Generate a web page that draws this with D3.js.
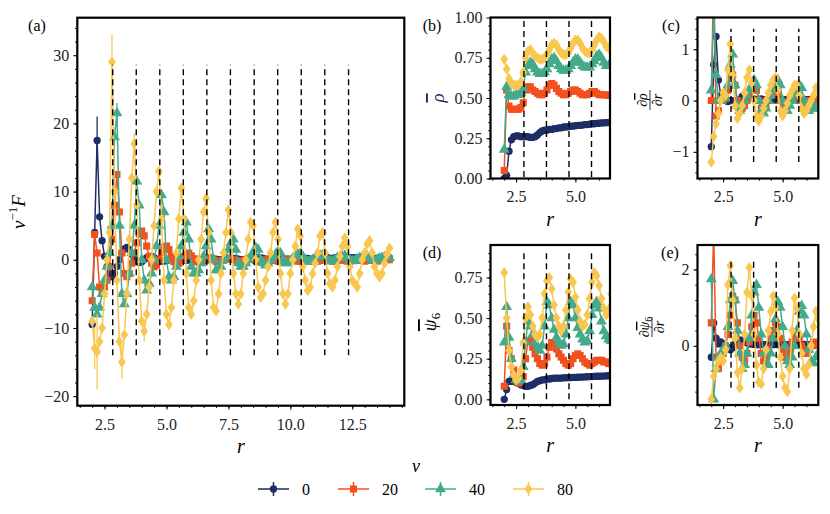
<!DOCTYPE html>
<html><head><meta charset="utf-8">
<script src="https://cdn.jsdelivr.net/npm/d3@7.9.0/dist/d3.min.js"></script>
<style>
body{margin:0;background:#fff;}
svg, svg text{font-family:"Liberation Serif","DejaVu Serif",serif;}
</style></head><body>
<svg id="fig" width="830" height="514" font-family="Liberation Serif"></svg>
<script>
// series labels + colours (nu = activity)
const nus = ["0", "20", "40", "80"];
const colors = ["#1e2d64", "#f2501d", "#44aa8b", "#f9c74f"];

// r grid: panel (a) 2.0 .. 14.0, small panels use 2.0 .. 6.5
const rA = d3.range(0, 121).map(i => +(2 + i * 0.1).toFixed(1));
const rS = rA.slice(0, 46);

// dashed shell positions
const shellR = [2.83, 3.78, 4.73, 5.68, 6.63, 7.58, 8.54, 9.49, 10.44, 11.39, 12.35];

// (a) nu^-1 F
const forceNu0 = [-9.5,4,17.5,6.3,2.8,0.5,-1,-2,-2.5,-2, -1,0,1,1.6,1.8,1.5,0.8,0.2,-0.2,-0.4,
  -0.3,0,0.3,0.5,0.5,0.3,0.1,-0.1,-0.2,-0.2, -0.1,0,0.1,0.2,0.2,0.1,0,-0.1,-0.1,0,
  0.1,0.1,0.1,0,0,-0.1,0,0,0.1,0.1, 0.1,0,0,0,0,0.1,0.1,0.2,0.2,0.1,
  0,0,0.1,0.2,0.3,0.4,0.4,0.3,0.3,0.2, 0.1,0,0,0.1,0.1,0.2,0.2,0.2,0.1,0.1,
  0,0,0.1,0.1,0.2,0.2,0.2,0.2,0.1,0.1, 0.1,0.2,0.2,0.3,0.3,0.3,0.2,0.2,0.3,0.3,
  0.3,0.2,0.2,0.2,0.3,0.3,0.3,0.2,0.2,0.2, 0.3,0.3,0.3,0.2,0.2,0.2,0.3,0.3,0.3,0.2, 0.3];
const forceNu20 = [-6,3.7,1,-4,-4.5,-4,-3,-1,3,8, 12.5,7,1,-2,-2.5,-2,-0.5,1,2.5,3.8,
  4.2,3.5,2,0.5,-0.5,-1,-0.8,0,1,1.8, 2,1.5,0.5,-0.3,-0.5,-0.5,0,0.5,0.8,1,
  0.6,0.1,-0.3,-0.3,-0.2,0,0.2,0.3,0.2,0, -0.2,-0.2,-0.1,0,0.1,0.2,0.1,0,-0.1,-0.2,
  -0.2,-0.1,0,0.1,0.1,0,-0.1,-0.2,-0.2,-0.1, 0,0.1,0.1,0,-0.1,-0.2,-0.2,-0.1,0,0,
  0.1,0,-0.1,-0.2,-0.2,-0.1,0,0,0,-0.1, -0.2,-0.2,-0.1,0,0,0,-0.1,-0.2,-0.2,-0.1,
  0,0,-0.1,-0.2,-0.2,-0.1,0,0,-0.1,-0.1, -0.2,-0.1,0,0,-0.1,-0.2,-0.1,0,0,0, 0];
const forceNu40 = [-4,-7,-8,-7,-5,-3,-1,1,5,18, 21.5,5,-5,-6.5,-5,-2,1,5,11.5,8,
  0,-3,-4.5,-3.5,-2,0,2,5,9.5,7, 0,-2.5,-3,-2.5,-1,0.5,2,4,5.5,3,
  -1,-2,-2,-1.5,-0.5,0.5,2,4.5,3,0, -1.5,-1.5,-1,0,0.5,1.5,2.5,3,1.5,-0.5,
  -1,-1,-0.5,0,0.5,1,1.8,1.5,0,-0.5, -0.8,-0.5,0,0.3,0.8,1.2,1,0,-0.5,-0.5,
  -0.2,0.2,0.5,0.8,0.9,0.5,0,-0.3,-0.3,0, 0.3,0.5,0.6,0.7,0.4,0,-0.2,-0.2,0,0.3,
  0.4,0.5,0.6,0.3,0,-0.2,-0.1,0.1,0.3,0.4, 0.5,0.5,0.3,0,-0.1,0,0.2,0.3,0.4,0.4, 0.3];
const forceNu80 = [-9,-13,-13.5,-12,-10,-5,0,4,29,10, -3,-12,-15,-11,-5,3,12,17,8,-3,
  -9,-10.5,-8,-4,0,5,10,13,6,-3, -8,-9.5,-7,-3,1,6,10.5,6,-2,-7,
  -8,-6,-3,0,3,7,9,4,-3,-7, -7.5,-5,-2,1,4,7.3,4,-2,-5,-6.5,
  -5,-2,0,3,5.5,5,0,-4,-5.5,-5, -3,-1,1,4,5.5,3,-2,-5,-6.5,-5,
  -2,0,2,4.5,3.5,-1,-3,-4.5,-4,-2, -0.5,1,3.5,4,1,-2,-3.5,-4,-3,-1,
  0.5,2,3.2,2,-1,-3,-3.5,-4,-2,0, 1,2.3,2.8,1,-1,-2,-2.5,-2,-0.5,0.8, 1.7];
// a few visible error bars in (a): [series, r, half-width]
const forceErr = [[0,2.2,3.5],[3,2.8,4],[3,2.2,5.5],[3,2.1,3],[3,3.2,2.5],[3,4.1,1.5],[2,3.0,1.5],[3,3.7,1.5]];

// (b) rho bar
const rhoNu0 = [0,0.02,0.17,0.24,0.26,0.265,0.265,0.26,0.26,0.26, 0.26,0.255,0.255,0.26,0.27,0.285,0.295,0.3,0.3,0.305,
  0.305,0.31,0.31,0.315,0.315,0.32,0.32,0.322,0.325,0.325, 0.328,0.33,0.33,0.332,0.335,0.335,0.337,0.34,0.34,0.342,
  0.343,0.345,0.346,0.347,0.348,0.35];
const rhoNu20 = [0.05,0.55,0.45,0.43,0.43,0.43,0.43,0.44,0.47,0.55, 0.57,0.57,0.55,0.54,0.53,0.52,0.52,0.53,0.55,0.58,
  0.59,0.58,0.56,0.54,0.53,0.52,0.52,0.53,0.54,0.55, 0.55,0.54,0.53,0.52,0.52,0.52,0.53,0.54,0.54,0.53,
  0.52,0.52,0.52,0.52,0.515,0.515];
const rhoNu40 = [0.18,0.57,0.52,0.51,0.51,0.52,0.52,0.53,0.56,0.66, 0.7,0.72,0.71,0.68,0.66,0.65,0.65,0.66,0.68,0.71,
  0.74,0.75,0.73,0.7,0.68,0.67,0.67,0.68,0.7,0.72, 0.74,0.74,0.72,0.7,0.69,0.69,0.69,0.71,0.73,0.76,
  0.77,0.75,0.72,0.7,0.7,0.7];
const rhoNu80 = [0.74,0.68,0.62,0.59,0.58,0.58,0.58,0.6,0.66,0.75, 0.79,0.8,0.78,0.76,0.75,0.74,0.74,0.75,0.77,0.8,
  0.83,0.84,0.83,0.8,0.78,0.77,0.77,0.78,0.81,0.84, 0.86,0.86,0.84,0.81,0.79,0.78,0.78,0.8,0.83,0.86,
  0.88,0.87,0.85,0.82,0.81,0.83];

// (c) d rho / dr
const drhoNu0 = [-0.9,0.7,1.25,0.4,0.1,0.02,0,-0.02,0,0, 0,-0.02,0.02,0.08,0.12,0.15,0.1,0.05,0.03,0.02,
  0.02,0.03,0.02,0.02,0.01,0.02,0.02,0.01,0.02,0.02, 0.01,0.02,0.02,0.01,0.02,0.02,0.01,0.02,0.02,0.01,
  0.02,0.02,0.01,0.02,0.01,0.02];
const drhoNu20 = [0,2.5,-0.3,-0.2,0,0,0.05,0.2,0.5,0.5, 0.3,0,-0.15,-0.15,-0.1,0,0.1,0.2,0.3,0.2,
  0,-0.15,-0.2,-0.1,0,0.1,0.15,0.2,0.15,0, -0.1,-0.1,-0.05,0,0.05,0.1,0.1,0.05,0,-0.05,
  -0.05,0,0,0,0,0];
const drhoNu40 = [0.2,1.8,0.5,0,0,0.05,0.05,0.3,0.7,0.9, 0.3,-0.1,-0.2,-0.1,0,0.1,0.2,0.3,0.4,0.3,
  0,-0.2,-0.25,-0.15,0,0.1,0.2,0.3,0.4,0.3, 0,-0.15,-0.2,-0.1,0,0.1,0.2,0.3,0.25,0,
  -0.15,-0.2,-0.15,-0.1,-0.15,-0.15];
const drhoNu80 = [-1.2,-0.7,-0.45,-0.25,0,0.15,0.1,0.6,1.1,0.5, -0.1,-0.35,-0.25,-0.1,0.15,0.45,0.6,0.35,0,-0.3,
  -0.4,-0.3,-0.15,0,0.15,0.3,0.4,0.45,0.2,-0.2, -0.3,-0.2,-0.05,0.1,0.2,0.3,0.3,0.1,-0.15,-0.25,
  -0.2,-0.1,0,0.1,0.25,0.2];

// (d) psi6 bar
const psiNu0 = [0,0.06,0.11,0.11,0.11,0.105,0.1,0.09,0.085,0.08, 0.08,0.085,0.09,0.1,0.11,0.115,0.12,0.12,0.125,0.125,
  0.128,0.13,0.13,0.13,0.131,0.132,0.133,0.133,0.134,0.135, 0.135,0.136,0.137,0.137,0.138,0.139,0.14,0.14,0.141,0.142,
  0.142,0.143,0.143,0.144,0.145,0.145];
const psiNu20 = [0.08,0.45,0.3,0.25,0.18,0.12,0.1,0.11,0.14,0.25, 0.36,0.36,0.32,0.28,0.25,0.22,0.21,0.22,0.26,0.32,
  0.35,0.34,0.31,0.28,0.26,0.24,0.22,0.21,0.22,0.25, 0.27,0.28,0.27,0.25,0.23,0.22,0.21,0.22,0.23,0.24,
  0.24,0.24,0.23,0.23,0.22,0.22];
const psiNu40 = [0.35,0.57,0.38,0.25,0.15,0.12,0.11,0.12,0.2,0.35, 0.48,0.45,0.4,0.35,0.32,0.3,0.33,0.45,0.6,0.58,
  0.5,0.43,0.38,0.35,0.33,0.34,0.4,0.5,0.6,0.58, 0.5,0.44,0.4,0.37,0.35,0.36,0.42,0.52,0.58,0.6,
  0.56,0.48,0.42,0.39,0.37,0.36];
const psiNu80 = [0.78,0.5,0.3,0.2,0.15,0.12,0.13,0.18,0.35,0.5, 0.57,0.52,0.45,0.4,0.38,0.4,0.5,0.65,0.73,0.75,
  0.68,0.58,0.5,0.45,0.42,0.45,0.55,0.66,0.74,0.72, 0.63,0.55,0.48,0.45,0.46,0.52,0.62,0.72,0.78,0.76,
  0.7,0.62,0.56,0.52,0.55,0.65];

// (e) d psi6 / dr
const dpsiNu0 = [-0.3,0.6,0.2,0.05,0.1,0.05,0,-0.05,-0.1,-0.05, 0.05,0.1,0.15,0.15,0.1,0.08,0.05,0.05,0.04,0.03,
  0.03,0.04,0.03,0.03,0.04,0.03,0.03,0.04,0.03,0.03, 0.04,0.03,0.03,0.04,0.03,0.03,0.04,0.03,0.03,0.04,
  0.03,0.03,0.04,0.03,0.03,0.03];
const dpsiNu20 = [0.6,3,-0.3,-0.6,-0.4,-0.2,0,0.3,0.8,1.3, 1.2,0.6,0,-0.3,-0.4,-0.2,0.1,0.5,0.8,0.6,
  0.2,-0.2,-0.4,-0.3,-0.1,0.2,0.4,0.6,0.5,0.2, -0.1,-0.3,-0.25,-0.1,0.1,0.25,0.3,0.2,0,-0.15,
  -0.2,-0.1,0,0.1,0.05,0];
const dpsiNu40 = [1.75,-1.4,-0.6,-0.3,-0.2,-0.1,0,0.5,1.2,1.7, 1.2,0.4,-0.2,-0.6,-0.5,-0.2,0.2,0.8,1.4,1.6,
  1,0.3,-0.2,-0.5,-0.5,-0.2,0.2,0.7,1.15,1, 0.5,0,-0.4,-0.5,-0.3,0,0.4,0.9,1.05,0.8,
  0.3,-0.1,-0.4,-0.45,-0.3,-0.2];
const dpsiNu80 = [-1.4,-0.8,-0.6,-0.4,-0.3,-0.4,-0.1,1.6,2.1,1.2, 0.2,-0.7,-1.1,-0.6,0.3,1.4,2.05,1.3,0.3,-0.5,
  -0.95,-1,-0.6,-0.1,0.4,0.9,1.3,1,0.3,-0.3, -0.8,-1.1,-1.2,-0.6,0.4,1.25,1,0.3,-0.2,-0.6,
  -0.75,-0.5,0,0.5,0.9,0.7];

const svg = d3.select("#fig");
const defs = svg.append("defs");

function markerPath(i) {
  if (i === 0) return d3.symbol().type(d3.symbolCircle).size(42)();
  if (i === 1) return d3.symbol().type(d3.symbolSquare).size(50)();
  if (i === 2) return d3.symbol().type(d3.symbolTriangle).size(52)();
  return "M0,-5.6L3.9,0L0,5.6L-3.9,0Z";
}

const panels = [
  {id: "a", l: 77.3, r: 404.3, t: 17.7, b: 405.7, xd: [1.4, 14.6], yd: [-21.4, 35.5],
   yt: [-20, -10, 0, 10, 20, 30], ym: 2, yf: d3.format("d"), rr: rA,
   series: [forceNu0, forceNu20, forceNu40, forceNu80], vl: [-14, 28.6], tag: "(a)", tagx: 37},
  {id: "b", l: 490.5, r: 610, t: 17.5, b: 178.5, xd: [1.42, 6.46], yd: [0, 1],
   yt: [0, 0.25, 0.5, 0.75, 1], ym: 0.05, yf: d3.format(".2f"), rr: rS,
   series: [rhoNu0, rhoNu20, rhoNu40, rhoNu80], vl: [0.01, 0.99], tag: "(b)", tagx: 432},
  {id: "c", l: 697.5, r: 818.3, t: 17.5, b: 178.5, xd: [1.42, 6.5], yd: [-1.52, 1.62],
   yt: [-1, 0, 1], ym: 0.2, yf: d3.format("d"), rr: rS,
   series: [drhoNu0, drhoNu20, drhoNu40, drhoNu80], vl: [-1.2, 1.4], tag: "(c)", tagx: 671},
  {id: "d", l: 490.5, r: 610, t: 245, b: 405, xd: [1.42, 6.46], yd: [-0.035, 0.95],
   yt: [0, 0.25, 0.5, 0.75], ym: 0.05, yf: d3.format(".2f"), rr: rS,
   series: [psiNu0, psiNu20, psiNu40, psiNu80], vl: [0.0, 0.9], tag: "(d)", tagx: 432},
  {id: "e", l: 697.5, r: 818.3, t: 245, b: 405, xd: [1.42, 6.5], yd: [-1.55, 2.64],
   yt: [0, 2], ym: 0.4, yf: d3.format("d"), rr: rS,
   series: [dpsiNu0, dpsiNu20, dpsiNu40, dpsiNu80], vl: [-1.1, 2.3], tag: "(e)", tagx: 670}
];

panels.forEach(p => {
  const x = d3.scaleLinear().domain(p.xd).range([p.l, p.r]);
  const y = d3.scaleLinear().domain(p.yd).range([p.b, p.t]);
  const g = svg.append("g");
  defs.append("clipPath").attr("id", "clip" + p.id).append("rect")
    .attr("x", p.l).attr("y", p.t).attr("width", p.r - p.l).attr("height", p.b - p.t);
  const plot = g.append("g").attr("clip-path", `url(#clip${p.id})`);

  p.series.forEach((vals, i) => {
    const pts = p.rr.map((r, j) => [r, vals[j]]);
    plot.append("path")
      .attr("d", d3.line().x(d => x(d[0])).y(d => y(d[1]))(pts))
      .attr("fill", "none").attr("stroke", colors[i]).attr("stroke-width", 1.5);
    if (p.id === "a") {
      forceErr.filter(e => e[0] === i).forEach(e => {
        const v = vals[p.rr.indexOf(e[1])];
        plot.append("line").attr("x1", x(e[1])).attr("x2", x(e[1]))
          .attr("y1", y(v - e[2])).attr("y2", y(v + e[2]))
          .attr("stroke", colors[i]).attr("stroke-width", 1.3);
      });
    }
    plot.selectAll(null).data(pts).join("path")
      .attr("transform", d => `translate(${x(d[0])},${y(d[1])})`)
      .attr("d", markerPath(i)).attr("fill", colors[i]);
  });

  // dashed shells
  plot.selectAll(null).data(shellR.filter(s => s < p.xd[1])).join("line")
    .attr("x1", d => x(d)).attr("x2", d => x(d))
    .attr("y1", y(p.vl[0])).attr("y2", y(p.vl[1]))
    .attr("stroke", "#000").attr("stroke-width", 1.4).attr("stroke-dasharray", "6,4");

  // axes
  const xt = [2.5, 5, 7.5, 10, 12.5].filter(v => v < p.xd[1]);
  const xm = d3.range(1.5, p.xd[1], 0.5);
  const ymin = d3.range(Math.ceil(p.yd[0] / p.ym) * p.ym, p.yd[1], p.ym);
  const ax = g.append("g").attr("transform", `translate(0,${p.b})`)
    .call(d3.axisBottom(x).tickValues(xt).tickFormat(d3.format(".1f")).tickSize(4).tickPadding(8.5));
  const axm = g.append("g").attr("transform", `translate(0,${p.b})`)
    .call(d3.axisBottom(x).tickValues(xm).tickFormat("").tickSize(2.2));
  const ay = g.append("g").attr("transform", `translate(${p.l},0)`)
    .call(d3.axisLeft(y).tickValues(p.yt).tickFormat(p.yf).tickSize(4).tickPadding(4));
  const aym = g.append("g").attr("transform", `translate(${p.l},0)`)
    .call(d3.axisLeft(y).tickValues(ymin).tickFormat("").tickSize(2.2));
  [ax, axm, ay, aym].forEach(a => {
    a.attr("font-family", "Liberation Serif");
    a.select(".domain").remove();
    a.selectAll("text").attr("font-size", 16).attr("fill", "#222");
    a.selectAll("line").attr("stroke-width", 1);
  });

  g.append("rect").attr("x", p.l).attr("y", p.t).attr("width", p.r - p.l).attr("height", p.b - p.t)
    .attr("fill", "none").attr("stroke", "#000").attr("stroke-width", 2.2);

  g.append("text").attr("x", p.tagx).attr("y", p.t + 13).attr("text-anchor", "middle")
    .attr("font-size", 16).text(p.tag);

  g.append("text").attr("x", (p.l + p.r) / 2).attr("y", p.b + 47).attr("text-anchor", "middle")
    .attr("font-size", 20).attr("font-style", "italic").text("r");
});

// y labels
function rotLabel(cx, cy) {
  return svg.append("g").attr("transform", `translate(${cx},${cy}) rotate(-90)`);
}
const la = rotLabel(25, 212).append("text").attr("text-anchor", "middle").attr("font-size", 19);
la.append("tspan").attr("font-style", "italic").text("ν");
la.append("tspan").attr("font-size", 13).attr("dy", -8).text("−1");
la.append("tspan").attr("font-style", "italic").attr("dy", 8).text("F");

const lb = rotLabel(444, 98).append("text").attr("text-anchor", "middle").attr("font-size", 19)
  .attr("fill", colors[0]);
lb.append("tspan").attr("font-style", "italic").attr("text-decoration", "overline").text("ρ");

function fracLabel(cx, cy, sym, sub) {
  const g = rotLabel(cx, cy);
  const num = g.append("text").attr("text-anchor", "middle").attr("y", -3).attr("font-size", 14);
  num.append("tspan").text("∂");
  num.append("tspan").attr("font-style", "italic").attr("text-decoration", "overline").text(sym);
  if (sub) num.append("tspan").attr("font-size", 10).attr("dy", 3).text(sub);
  g.append("line").attr("x1", -10).attr("x2", 10).attr("y1", 0).attr("y2", 0)
    .attr("stroke", "#000").attr("stroke-width", 0.8);
  const den = g.append("text").attr("text-anchor", "middle").attr("y", 12).attr("font-size", 14);
  den.append("tspan").text("∂");
  den.append("tspan").attr("font-style", "italic").text("r");
}
fracLabel(650, 100, "ρ", null);
fracLabel(652, 327, "ψ", "6");

const ld = rotLabel(436, 322).append("text").attr("text-anchor", "middle").attr("font-size", 19);
ld.append("tspan").attr("font-style", "italic").attr("text-decoration", "overline").text("ψ");
ld.append("tspan").attr("font-size", 13).attr("dy", 4).text("6");

// legend
const legX = [258, 338, 425, 513];
const legY = 489;
svg.append("text").attr("x", 416).attr("y", 472).attr("text-anchor", "middle")
  .attr("font-size", 18).attr("font-style", "italic").text("ν");
nus.forEach((nu, i) => {
  const g = svg.append("g");
  g.append("line").attr("x1", legX[i]).attr("x2", legX[i] + 31).attr("y1", legY).attr("y2", legY)
    .attr("stroke", colors[i]).attr("stroke-width", 1.5);
  g.append("line").attr("x1", legX[i] + 15.5).attr("x2", legX[i] + 15.5).attr("y1", legY - 7).attr("y2", legY + 7)
    .attr("stroke", colors[i]).attr("stroke-width", 1.5);
  g.append("path").attr("transform", `translate(${legX[i] + 15.5},${legY})`)
    .attr("d", markerPath(i)).attr("fill", colors[i]);
  g.append("text").attr("x", legX[i] + 44).attr("y", legY + 5.5).attr("font-size", 16).text(nu);
});
</script>
</body></html>
